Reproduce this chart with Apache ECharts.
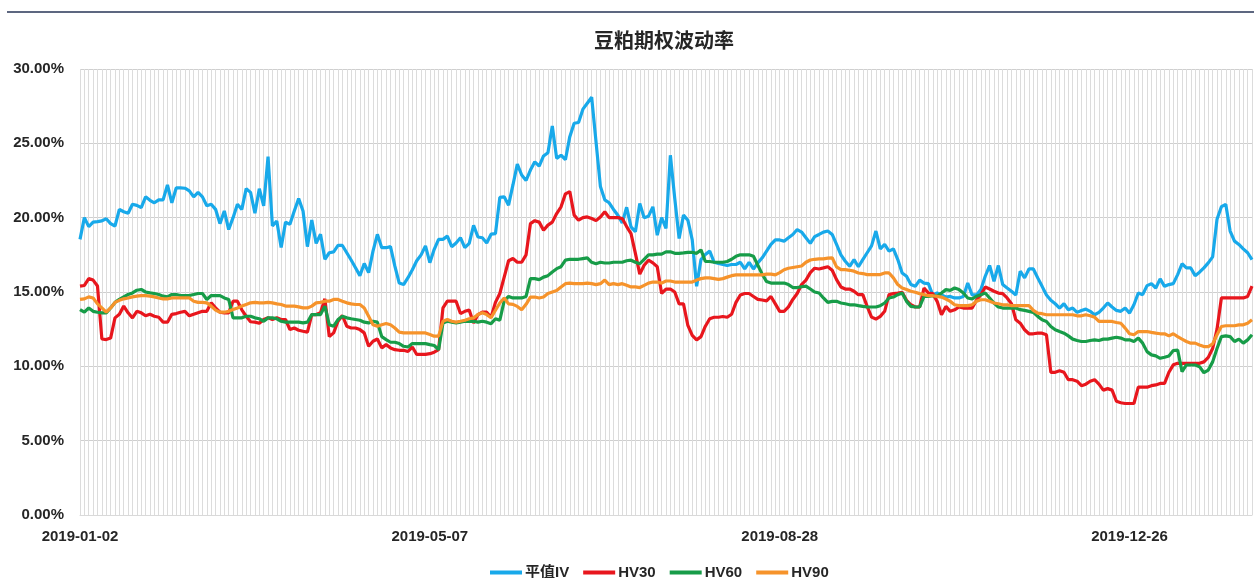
<!DOCTYPE html>
<html><head><meta charset="utf-8">
<script src="https://cdn.jsdelivr.net/npm/echarts@6/dist/echarts.min.js"></script>
<style>html,body{margin:0;padding:0;background:#fff}#chart{width:1254px;height:578px}</style>
</head><body><div id="chart"></div>
<script>
// ---- data ----
const titleText = '豆粕期权波动率';
const seriesNames = ['平值IV', 'HV30', 'HV60', 'HV90'];
const startDate = '2019-01-02';
const pointCount = 269;
const holidays = ['2019-01-01','2019-02-04','2019-02-05','2019-02-06','2019-02-07','2019-02-08','2019-04-05',
  '2019-05-01','2019-05-02','2019-05-03','2019-06-07','2019-09-13','2019-10-01','2019-10-02','2019-10-03',
  '2019-10-04','2019-10-07','2020-01-01','2020-01-24','2020-01-27','2020-01-28','2020-01-29','2020-01-30','2020-01-31'];
const yTicks = [0, 5, 10, 15, 20, 25, 30];

const ivATM = [
18.54,20.0,19.4,19.7,19.73,19.78,19.93,19.6,19.44,20.56,
20.4,20.3,20.9,20.83,20.67,21.4,21.17,21.0,21.2,21.2,
22.2,21.0,22.0,22.0,21.98,21.8,21.4,21.7,21.4,20.8,
20.9,20.56,19.6,20.45,19.2,20.0,20.9,20.56,21.95,21.7,
20.3,21.95,20.8,24.1,19.44,19.78,18.0,19.7,19.55,20.45,
21.28,20.45,18.05,19.84,18.27,18.88,17.2,17.64,17.7,18.13,
18.13,17.64,17.15,16.63,16.1,16.92,16.3,17.75,18.88,17.98,
17.98,18.05,16.74,15.6,15.5,15.96,16.5,17.1,17.5,18.1,
16.97,17.87,18.54,18.54,18.76,18.05,18.3,18.65,17.98,18.27,
19.48,18.7,18.65,18.3,18.89,18.93,21.36,21.4,20.84,22.2,
23.6,22.87,22.5,23.2,23.76,23.47,24.15,24.37,26.17,23.99,
24.2,23.9,25.45,26.35,26.4,27.3,27.7,28.1,25.1,22.1,
21.2,21.0,20.55,20.16,19.65,20.7,19.38,19.05,20.96,20.0,
20.1,20.73,18.82,20.0,19.27,24.2,21.3,18.6,20.17,19.83,
18.5,15.38,17.18,17.52,17.75,17.0,16.92,16.85,16.78,16.85,
16.85,17.0,16.55,17.0,16.55,16.96,17.3,17.75,18.2,18.5,
18.5,18.42,18.65,18.87,19.2,19.03,18.65,18.27,18.72,18.87,
19.03,19.1,18.87,18.2,17.5,17.07,16.73,17.18,16.7,17.18,
17.64,18.1,19.1,17.9,18.2,17.75,17.9,17.18,16.28,16.06,
15.5,15.38,15.8,15.6,15.56,14.8,14.93,14.8,14.66,14.7,
14.6,14.6,14.7,15.6,14.8,14.8,15.16,16.06,16.78,15.72,
16.78,15.5,15.27,15.05,14.8,16.4,15.95,16.55,16.55,15.95,
15.38,14.8,14.44,14.21,13.92,14.21,13.8,13.92,13.63,13.76,
13.85,13.7,13.47,13.63,13.92,14.26,13.99,13.76,13.7,13.92,
13.58,14.14,14.93,14.82,15.43,15.56,15.27,15.88,15.38,15.5,
15.56,16.17,16.9,16.62,16.62,16.1,16.33,16.62,16.96,17.36,
19.89,20.74,20.9,19.1,18.42,18.2,17.9,17.64,17.18
];
const hv30 = [
15.39,15.44,15.9,15.8,15.4,11.84,11.8,11.9,13.26,13.5,
14.05,13.6,13.26,13.7,13.6,13.4,13.5,13.37,13.3,12.97,
12.97,13.5,13.55,13.64,13.7,13.4,13.5,13.6,13.7,13.7,
14.27,13.93,13.64,13.6,13.6,14.38,14.38,13.8,13.37,13.0,
12.97,12.9,13.15,13.26,13.15,13.26,13.15,13.15,12.47,12.58,
12.43,12.36,12.3,13.48,13.48,13.6,14.54,12.0,12.25,13.03,
13.42,12.7,12.58,12.58,12.47,12.25,11.35,11.69,11.84,11.24,
11.46,11.24,11.12,11.08,11.08,11.0,11.3,10.8,10.8,10.8,
10.85,10.95,11.12,13.93,14.38,14.38,14.38,13.55,13.7,13.78,
12.92,13.48,13.64,13.64,13.3,14.3,14.9,16.0,17.1,17.25,
17.0,17.0,17.5,19.6,19.8,19.7,19.15,19.5,19.7,20.28,
20.73,21.6,21.75,20.17,19.83,20.0,20.05,19.94,19.8,20.05,
20.4,20.0,20.0,20.0,19.94,19.4,18.93,17.6,16.2,16.8,
17.14,16.96,16.7,14.9,15.2,15.2,15.0,14.2,14.2,12.75,
12.08,11.78,12.0,12.7,13.2,13.3,13.3,13.35,13.3,13.5,
14.3,14.8,14.9,14.9,14.7,14.5,14.46,14.4,14.7,14.2,
13.7,13.7,14.0,14.5,14.9,15.5,15.8,16.3,16.6,16.55,
16.62,16.7,16.46,15.83,15.34,15.2,15.2,15.05,14.82,14.82,
14.03,13.31,13.18,13.36,13.7,14.82,14.89,14.93,14.98,14.44,
14.14,13.99,13.99,15.27,14.93,14.89,14.37,13.47,14.03,13.7,
13.8,13.99,13.92,13.92,13.92,14.44,14.82,15.34,15.2,15.05,
14.93,14.89,14.6,14.21,13.13,12.9,12.46,12.19,12.19,12.23,
12.23,12.12,9.6,9.6,9.7,9.6,9.1,9.1,9.0,8.7,
8.8,9.0,9.1,8.8,8.4,8.5,8.4,7.65,7.55,7.5,
7.5,7.5,8.6,8.6,8.6,8.7,8.75,8.85,8.85,9.6,
10.1,10.2,10.2,10.2,10.2,10.2,10.2,10.3,10.6,11.2,
12.5,14.6,14.6,14.6,14.6,14.6,14.6,14.7,15.4
];
const hv60 = [
13.82,13.64,13.93,13.7,13.64,13.6,13.6,13.93,14.3,14.5,
14.67,14.83,14.94,15.12,15.17,15.0,14.94,14.9,14.83,14.72,
14.67,14.83,14.83,14.76,14.76,14.76,14.83,14.9,14.9,14.5,
14.76,14.76,14.76,14.6,14.5,13.26,13.26,13.26,13.37,13.37,
13.26,13.2,13.03,13.26,13.26,13.2,13.03,12.97,12.97,12.97,
12.97,12.92,12.97,13.48,13.48,13.48,14.05,12.8,12.7,13.15,
13.37,13.26,13.2,13.15,13.1,12.97,12.92,13.03,12.97,12.0,
11.8,11.62,11.62,11.53,11.35,11.3,11.53,11.53,11.53,11.53,
11.46,11.4,11.12,12.92,13.03,12.97,12.92,12.97,13.03,13.03,
13.03,12.97,13.03,12.97,12.87,13.2,13.1,14.4,14.7,14.6,
14.6,14.6,14.7,15.9,15.9,15.83,16.0,16.1,16.35,16.57,
16.7,17.14,17.2,17.2,17.2,17.25,17.3,17.0,16.9,17.0,
16.95,16.95,17.0,17.0,17.0,17.1,17.14,17.0,16.9,17.2,
17.5,17.5,17.55,17.55,17.7,17.7,17.6,17.6,17.63,17.67,
17.67,17.6,17.83,17.05,17.05,17.0,17.0,17.0,17.05,17.2,
17.4,17.5,17.5,17.5,17.4,16.8,16.2,15.7,15.6,15.6,
15.6,15.6,15.5,15.3,15.3,15.35,15.4,15.2,15.0,14.93,
14.6,14.3,14.37,14.37,14.26,14.21,14.14,14.14,14.08,14.03,
13.99,13.99,13.99,14.08,14.26,14.6,14.66,14.82,14.93,14.37,
14.03,13.99,13.99,14.71,14.71,14.75,14.71,14.93,15.16,15.11,
15.27,15.16,14.93,14.6,14.53,14.71,14.82,14.93,14.6,14.26,
13.99,13.92,13.92,13.92,13.92,13.81,13.76,13.7,13.63,13.36,
13.13,13.02,12.68,12.46,12.34,12.23,12.05,11.83,11.74,11.67,
11.67,11.74,11.78,11.74,11.83,11.83,11.9,11.96,11.9,11.78,
11.78,11.67,11.9,11.56,10.99,10.77,10.7,10.54,10.61,10.7,
11.06,11.1,9.64,10.09,10.09,10.09,9.98,9.57,9.75,10.3,
11.2,12.0,12.05,12.0,11.67,11.83,11.56,11.78,12.12
];
const hv90 = [
14.5,14.54,14.67,14.6,14.2,13.93,13.64,13.93,14.3,14.44,
14.54,14.6,14.67,14.72,14.76,14.76,14.72,14.67,14.6,14.54,
14.54,14.6,14.6,14.6,14.6,14.6,14.38,14.3,14.3,14.27,
14.05,13.78,13.64,13.64,13.7,13.82,13.93,14.05,14.16,14.27,
14.3,14.27,14.27,14.3,14.27,14.2,14.16,14.05,14.05,14.05,
14.0,13.93,13.93,14.05,14.27,14.3,14.38,14.38,14.5,14.5,
14.38,14.27,14.2,14.16,14.16,13.93,13.37,12.8,12.7,12.8,
12.88,12.8,12.58,12.3,12.25,12.25,12.25,12.25,12.25,12.25,
12.14,12.03,12.03,13.03,13.15,13.03,12.97,13.03,13.1,13.2,
13.26,13.48,13.6,13.48,13.27,13.77,14.26,14.6,14.2,14.17,
14.03,13.8,14.17,14.66,14.66,14.6,14.66,14.9,15.0,15.1,
15.34,15.56,15.6,15.56,15.56,15.56,15.6,15.56,15.5,15.56,
15.8,15.5,15.56,15.5,15.56,15.45,15.34,15.34,15.3,15.45,
15.6,15.67,15.67,15.6,15.74,15.74,15.67,15.67,15.67,15.67,
15.67,15.8,15.9,15.95,15.95,15.9,15.85,15.9,16.0,16.1,
16.15,16.15,16.15,16.15,16.15,16.15,16.15,16.2,16.2,16.15,
16.3,16.5,16.6,16.65,16.7,16.75,17.0,17.15,17.2,17.23,
17.23,17.28,17.3,16.69,16.5,16.5,16.46,16.4,16.28,16.24,
16.17,16.17,16.17,16.17,16.28,16.28,15.95,15.5,15.27,15.16,
15.05,14.98,14.89,14.82,14.75,14.75,14.71,14.66,14.53,14.37,
14.14,14.08,14.08,14.08,14.14,14.37,14.48,14.48,14.37,14.26,
14.21,14.14,14.14,14.08,14.08,14.08,14.08,14.08,13.76,13.58,
13.54,13.47,13.47,13.47,13.47,13.47,13.47,13.47,13.4,13.4,
13.47,13.4,13.31,13.02,13.02,13.02,13.02,12.95,12.9,12.57,
12.19,12.12,12.34,12.34,12.34,12.28,12.23,12.19,12.19,12.05,
12.19,12.0,11.83,11.67,11.56,11.56,11.44,11.33,11.33,11.51,
12.12,12.68,12.73,12.73,12.73,12.79,12.79,12.9,13.13
];
const seriesColors = ['#18a9ea', '#e8161d', '#179c48', '#f6932b'];

// trading-day categories (weekdays minus exchange holidays)
function tradingDays(start, n) {
  const out = [];
  const d = new Date(start + 'T00:00:00Z');
  while (out.length < n) {
    const dow = d.getUTCDay();
    const s = d.toISOString().slice(0, 10);
    if (dow !== 0 && dow !== 6 && holidays.indexOf(s) < 0) out.push(s);
    d.setUTCDate(d.getUTCDate() + 1);
  }
  return out;
}
const categories = tradingDays(startDate, pointCount);

const chart = echarts.init(document.getElementById('chart'), null, {renderer: 'canvas'});
const fontFam = '"Liberation Sans", Arial, "Noto Sans CJK SC", sans-serif';
const dataSets = [ivATM, hv30, hv60, hv90];
chart.setOption({
  animation: false,
  backgroundColor: '#ffffff',
  title: {
    text: titleText, left: 589, top: 25,
    textStyle: {fontFamily: '"Noto Sans CJK SC", sans-serif', fontSize: 20, fontWeight: 'bold', color: '#262626'}
  },
  graphic: [{
    type: 'line', shape: {x1: 7, y1: 12, x2: 1254, y2: 12},
    style: {stroke: '#5d6780', lineWidth: 2}
  }],
  legend: {
    data: seriesNames, top: 560, left: 485,
    icon: 'rect', itemWidth: 32, itemHeight: 4, itemGap: 14,
    textStyle: {fontFamily: fontFam, fontSize: 15, fontWeight: 'bold', color: '#262626', padding: [0, 0, 0, -2]}
  },
  grid: {left: 80, right: 2, top: 69, bottom: 63, containLabel: false},
  xAxis: {
    type: 'category', data: categories, boundaryGap: false,
    axisLine: {show: true, lineStyle: {color: '#d9d9d9', width: 1}},
    axisTick: {show: false},
    axisLabel: {interval: 79, margin: 14, fontFamily: fontFam, fontSize: 15, fontWeight: 'bold', color: '#262626'},
    splitLine: {show: true, interval: 0, lineStyle: {color: '#dcdcdc', width: 1}}
  },
  yAxis: {
    type: 'value', min: yTicks[0], max: yTicks[yTicks.length - 1], interval: 5,
    axisLine: {show: false}, axisTick: {show: false},
    axisLabel: {margin: 16, fontFamily: fontFam, fontSize: 15, fontWeight: 'bold', color: '#262626',
      formatter: v => v.toFixed(2) + '%'},
    splitLine: {show: true, lineStyle: {color: '#cfcfcf', width: 1}}
  },
  series: seriesNames.map((name, i) => ({
    name, type: 'line', data: dataSets[i], symbol: 'none', smooth: false,
    lineStyle: {width: 3.2, color: seriesColors[i]}, itemStyle: {color: seriesColors[i]},
    z: 2 + i
  }))
});
</script></body></html>
